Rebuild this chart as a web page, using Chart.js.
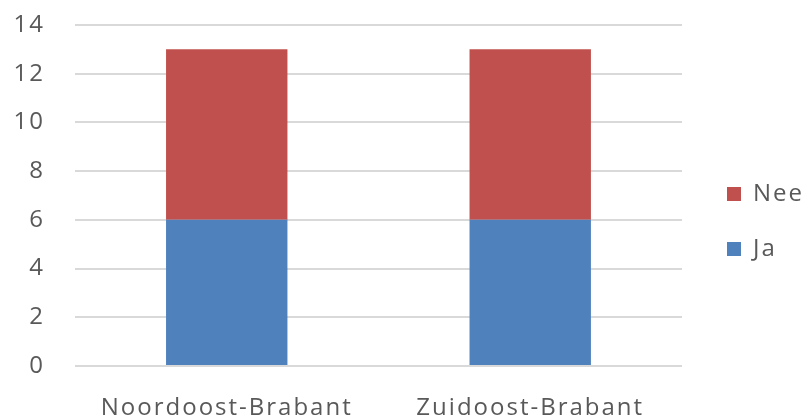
<!DOCTYPE html>
<html>
<head>
<meta charset="utf-8">
<script src="https://cdn.jsdelivr.net/npm/chart.js@4"></script>
<style>
  html, body { margin: 0; padding: 0; background: #fff; }
  #wrap { width: 808px; height: 418px; }
</style>
</head>
<body>
<div id="wrap"><canvas id="stackChart"></canvas></div>
<script>
const regions = ['Noordoost-Brabant', 'Zuidoost-Brabant'];
const jaValues = [6, 6];
const neeValues = [7, 7];

Chart.defaults.font.family = "'Open Sans', sans-serif";
Chart.defaults.color = '#595959';

// wider letter spacing like the original office rendering
const spacing = {
    id: 'spacing',
    beforeInit(chart) { chart.ctx.letterSpacing = '2px'; },
    beforeUpdate(chart) { chart.ctx.letterSpacing = '2px'; },
    beforeDraw(chart) { chart.ctx.letterSpacing = '2px'; }
};

// push the legend a bit further away from the plot
const legendShift = {
    id: 'legendShift',
    afterLayout(chart) {
        chart.legend.left += 14;
        chart.legend.right += 14;
    }
};

const stackChart = new Chart(document.getElementById('stackChart'), {
    type: 'bar',
    data: {
        labels: regions,
        datasets: [{
            label: 'Ja',
            data: jaValues,
            backgroundColor: '#4F81BD'
        }, {
            label: 'Nee',
            data: neeValues,
            backgroundColor: '#C0504D'
        }]
    },
    options: {
        responsive: true,
        maintainAspectRatio: false,
        animation: false,
        categoryPercentage: 1,
        barPercentage: 0.4,
        layout: { padding: { top: 25, right: 8, left: 0, bottom: 0 } },
        plugins: {
            tooltip: { enabled: false },
            legend: {
                position: 'right',
                reverse: true,
                labels: {
                    boxWidth: 14,
                    boxHeight: 14,
                    padding: 31,
                    font: { size: 24 }
                }
            }
        },
        scales: {
            x: {
                stacked: true,
                grid: { display: false },
                border: { display: false },
                ticks: { font: { size: 24 }, padding: 20, maxRotation: 0, minRotation: 0, autoSkip: false },
                afterFit(scale) {
                    scale.height = 52;
                    scale.paddingLeft = 0;
                    scale.paddingRight = 0;
                }
            },
            y: {
                stacked: true,
                min: 0,
                max: 14,
                grid: { color: '#d9d9d9', lineWidth: 2, drawTicks: false },
                border: { display: false },
                ticks: { stepSize: 2, font: { size: 24 }, padding: 30 },
                afterFit(scale) {
                    scale.width = 75;
                    scale.paddingTop = 0;
                    scale.paddingBottom = 0;
                }
            }
        }
    },
    plugins: [spacing, legendShift]
});
</script>
</body>
</html>
